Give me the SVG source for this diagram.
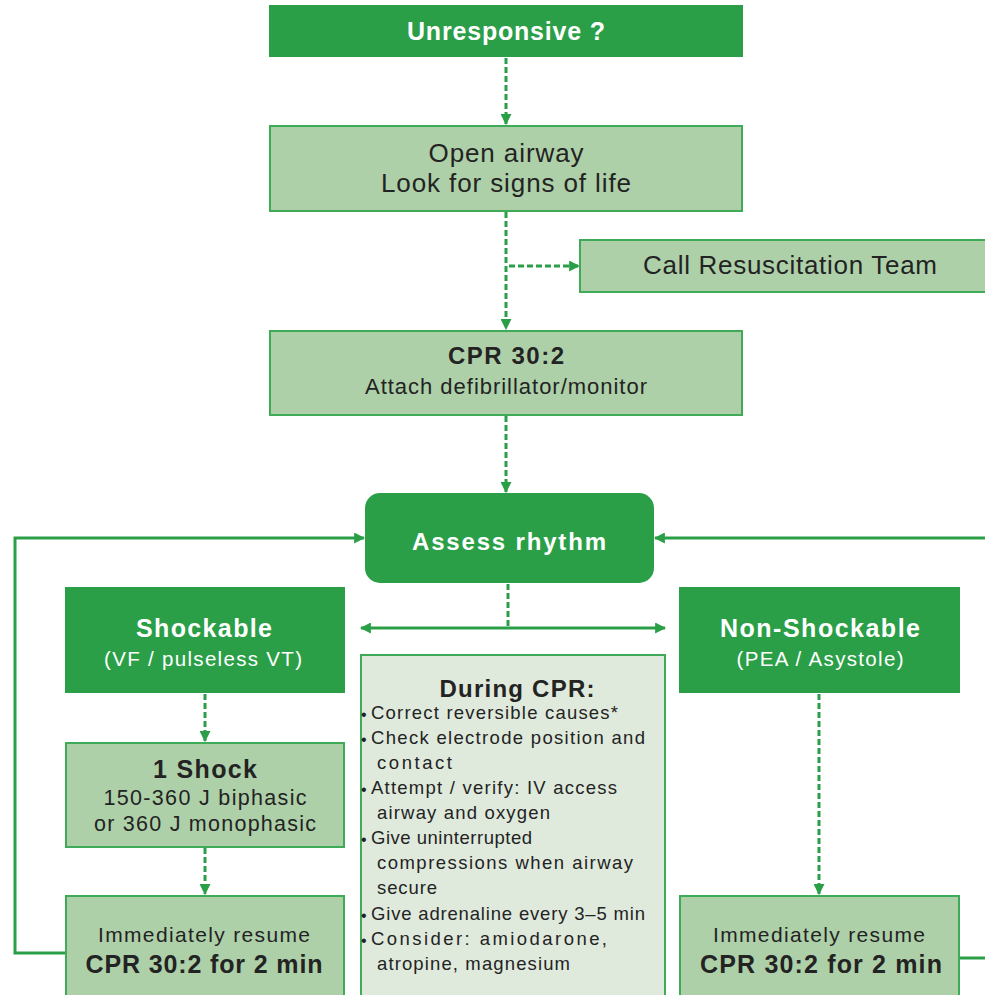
<svg xmlns="http://www.w3.org/2000/svg" width="985" height="995" viewBox="0 0 985 995">
<defs>
<style>
.dark{fill:#2a9f48;}
.light{fill:#aed0a9;stroke:#3fab58;stroke-width:2;}
.pale{fill:#dfeadc;stroke:#3fab58;stroke-width:2;}
text{font-family:"Liberation Sans",Arial,sans-serif;}
.w{fill:#ffffff;font-weight:bold;}
.wr{fill:#ffffff;}
.t{fill:#232323;}
.tb{fill:#232323;font-weight:bold;}
.dash{fill:none;stroke:#2a9f48;stroke-width:3;stroke-dasharray:6 3;}
.solid{fill:none;stroke:#2a9f48;stroke-width:3;}
</style>
<marker id="ah" viewBox="0 0 10 10" refX="9" refY="5" markerWidth="11" markerHeight="11" markerUnits="userSpaceOnUse" orient="auto-start-reverse">
<path d="M0,0 L10,5 L0,10 z" fill="#2a9f48"/>
</marker>
</defs>

<g id="connectors">
<line class="dash" x1="506" y1="58" x2="506" y2="124" marker-end="url(#ah)"/>
<line class="dash" x1="506" y1="212" x2="506" y2="329" marker-end="url(#ah)"/>
<line class="dash" x1="509" y1="266" x2="579" y2="266" marker-end="url(#ah)"/>
<line class="dash" x1="506" y1="416" x2="506" y2="492" marker-end="url(#ah)"/>
<line class="dash" x1="508" y1="584" x2="508" y2="628"/>
<line class="solid" x1="361" y1="628" x2="665" y2="628" marker-start="url(#ah)" marker-end="url(#ah)"/>
<line class="dash" x1="205" y1="694" x2="205" y2="741" marker-end="url(#ah)"/>
<line class="dash" x1="205" y1="848" x2="205" y2="894" marker-end="url(#ah)"/>
<line class="dash" x1="819" y1="694" x2="819" y2="894" marker-end="url(#ah)"/>
<polyline class="solid" points="65,953 15,953 15,538 364,538" marker-end="url(#ah)"/>
<polyline class="solid" points="960,958 990,958 990,538 655,538" marker-end="url(#ah)"/>
</g>

<g id="unresponsive">
<rect class="dark" x="269" y="5" width="474" height="52"/>
<text class="w" x="506" y="40" font-size="25" text-anchor="middle" textLength="198" lengthAdjust="spacing">Unresponsive ?</text>
</g>

<g id="open-airway">
<rect class="light" x="270" y="126" width="472" height="85"/>
<text class="t" x="506" y="162" font-size="26" text-anchor="middle" textLength="155" lengthAdjust="spacing">Open airway</text>
<text class="t" x="506" y="192" font-size="26" text-anchor="middle" textLength="250" lengthAdjust="spacing">Look for signs of life</text>
</g>

<g id="call-team">
<rect class="light" x="580" y="240" width="415" height="52"/>
<text class="t" x="790" y="274" font-size="26" text-anchor="middle" textLength="294" lengthAdjust="spacing">Call Resuscitation Team</text>
</g>

<g id="cpr">
<rect class="light" x="270" y="331" width="472" height="84"/>
<text class="tb" x="506" y="364" font-size="24" text-anchor="middle" textLength="116" lengthAdjust="spacing">CPR 30:2</text>
<text class="t" x="506" y="394" font-size="22" text-anchor="middle" textLength="282" lengthAdjust="spacing">Attach defibrillator/monitor</text>
</g>

<g id="assess-rhythm">
<rect class="dark" x="365" y="493" width="289" height="90" rx="15" ry="15"/>
<text class="w" x="509" y="550" font-size="24" text-anchor="middle" textLength="194" lengthAdjust="spacing">Assess rhythm</text>
</g>

<g id="shockable">
<rect class="dark" x="65" y="587" width="280" height="106"/>
<text class="w" x="204" y="637" font-size="25" text-anchor="middle" textLength="136" lengthAdjust="spacing">Shockable</text>
<text class="wr" x="203" y="666" font-size="20.5" text-anchor="middle" textLength="198" lengthAdjust="spacing">(VF / pulseless VT)</text>
</g>

<g id="non-shockable">
<rect class="dark" x="679" y="587" width="281" height="106"/>
<text class="w" x="820" y="637" font-size="25" text-anchor="middle" textLength="200" lengthAdjust="spacing">Non-Shockable</text>
<text class="wr" x="820" y="666" font-size="20.5" text-anchor="middle" textLength="167" lengthAdjust="spacing">(PEA / Asystole)</text>
</g>

<g id="during-cpr">
<rect class="pale" x="361" y="655" width="304" height="350"/>
<text class="tb" x="517" y="697" font-size="24" text-anchor="middle" textLength="155" lengthAdjust="spacing">During CPR:</text>
<g font-size="18.5">
<text class="t" x="361" y="720" font-size="16">•</text><text class="t" x="371" y="719" textLength="247" lengthAdjust="spacing">Correct reversible causes*</text>
<text class="t" x="361" y="745" font-size="16">•</text><text class="t" x="371" y="744" textLength="274" lengthAdjust="spacing">Check electrode position and</text>
<text class="t" x="377" y="769" textLength="75" lengthAdjust="spacing">contact</text>
<text class="t" x="361" y="795" font-size="16">•</text><text class="t" x="371" y="794" textLength="246" lengthAdjust="spacing">Attempt / verify: IV access</text>
<text class="t" x="377" y="819" textLength="173" lengthAdjust="spacing">airway and oxygen</text>
<text class="t" x="361" y="845" font-size="16">•</text><text class="t" x="371" y="844" textLength="161" lengthAdjust="spacing">Give uninterrupted</text>
<text class="t" x="377" y="869" textLength="256" lengthAdjust="spacing">compressions when airway</text>
<text class="t" x="377" y="894" textLength="60" lengthAdjust="spacing">secure</text>
<text class="t" x="361" y="921" font-size="16">•</text><text class="t" x="371" y="920" textLength="274" lengthAdjust="spacing">Give adrenaline every 3–5 min</text>
<text class="t" x="361" y="946" font-size="16">•</text><text class="t" x="371" y="945" textLength="236" lengthAdjust="spacing">Consider: amiodarone,</text>
<text class="t" x="377" y="970" textLength="193" lengthAdjust="spacing">atropine, magnesium</text>
</g>
</g>

<g id="one-shock">
<rect class="light" x="66" y="743" width="278" height="104"/>
<text class="tb" x="205" y="778" font-size="25" text-anchor="middle" textLength="104" lengthAdjust="spacing">1 Shock</text>
<text class="t" x="205" y="805" font-size="21.5" text-anchor="middle" textLength="203" lengthAdjust="spacing">150-360 J biphasic</text>
<text class="t" x="205" y="831" font-size="21.5" text-anchor="middle" textLength="222" lengthAdjust="spacing">or 360 J monophasic</text>
</g>

<g id="resume-left">
<rect class="light" x="66" y="896" width="278" height="110"/>
<text class="t" x="204" y="942" font-size="21" text-anchor="middle" textLength="212" lengthAdjust="spacing">Immediately resume</text>
<text class="tb" x="204" y="973" font-size="25" text-anchor="middle" textLength="237" lengthAdjust="spacing">CPR 30:2 for 2 min</text>
</g>

<g id="resume-right">
<rect class="light" x="680" y="896" width="279" height="110"/>
<text class="t" x="819" y="942" font-size="21" text-anchor="middle" textLength="212" lengthAdjust="spacing">Immediately resume</text>
<text class="tb" x="821" y="973" font-size="25" text-anchor="middle" textLength="242" lengthAdjust="spacing">CPR 30:2 for 2 min</text>
</g>
</svg>
